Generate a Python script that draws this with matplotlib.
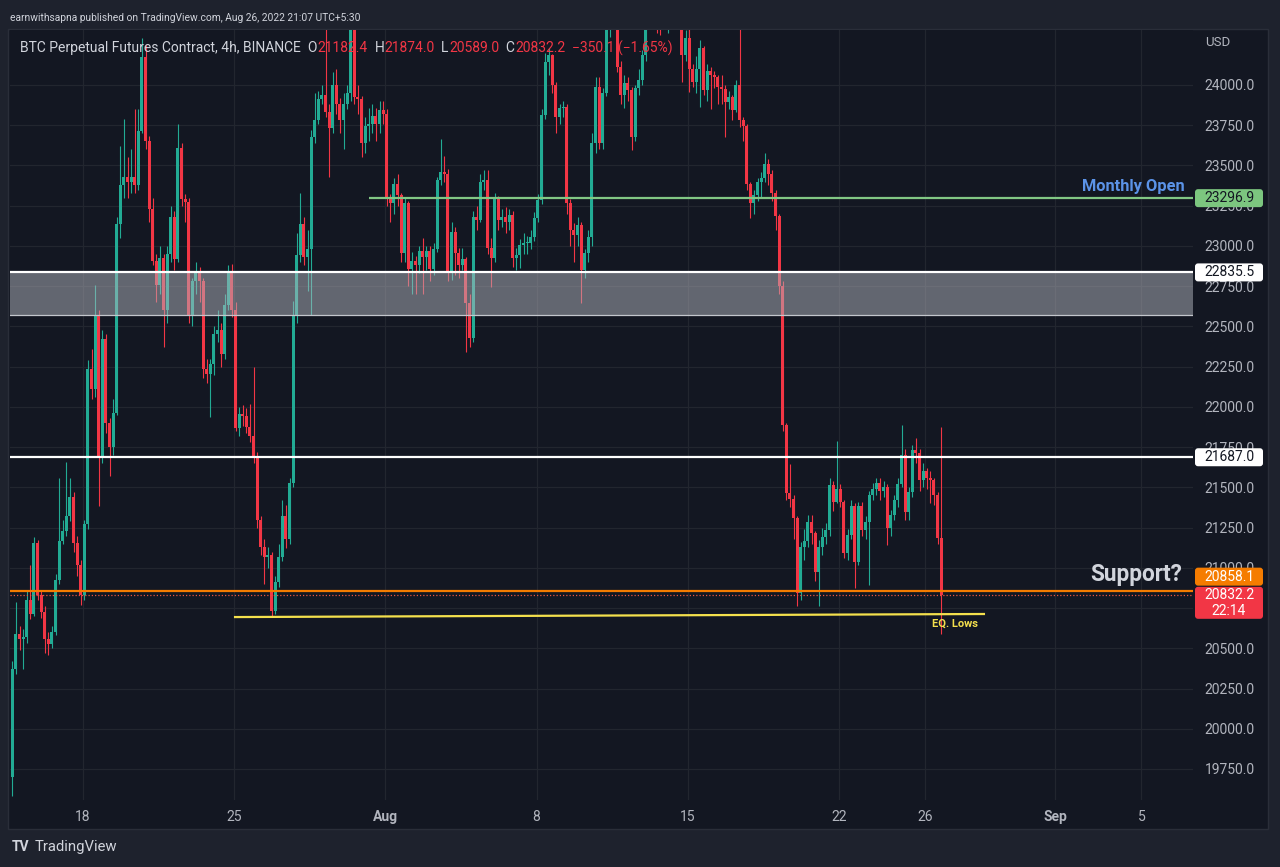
#!/usr/bin/env python3
"""
Recreate the TradingView snapshot of BTC perpetual futures, 4h, Aug 26 2022.
Candles, drawn levels and price tags are rebuilt with plain matplotlib.
"""

import matplotlib

matplotlib.use("Agg")
import matplotlib.pyplot as plt
import matplotlib.transforms as mtransforms
from matplotlib.patches import Rectangle, FancyBboxPatch

plt.rcParams["font.family"] = ["Roboto", "DejaVu Sans"]

# ═══════════════════════════════════════════════════════════════════════════
#  Data (read off the snapshot)
# ═══════════════════════════════════════════════════════════════════════════

FIRST_OPEN = 19700.0

CLOSES = [
    20374, 20588, 20558, 20570, 20802, 20710, 21153, 20832, 20725, 20558,   # 0
    20527, 20603, 20924, 21168, 21229, 21320, 21443, 21153, 21015, 20832,   # 10
    21275, 22236, 22114, 22572, 21687, 22419, 21900, 21748, 21961, 23136,   # 20
    23381, 23426, 23396, 23426, 23381, 23716, 24174, 23655, 23228, 22908,   # 30
    22755, 22923, 22602, 22950, 23182, 22920, 23610, 23289, 23274, 22572,   # 40
    22785, 22847, 22785, 22236, 22206, 22267, 22450, 22480, 22328, 22633,   # 50
    22847, 22602, 21870, 21953, 21945, 21876, 21820, 21696, 21296, 21129,   # 60
    21065, 21078, 20730, 20910, 21065, 21322, 21180, 21528, 22571, 22944,   # 70
    23138, 22931, 22980, 23678, 23781, 23910, 23936, 23833, 23730, 24000,   # 80
    23884, 23781, 23884, 23949, 24420, 23923, 23910, 23640, 23743, 23756,   # 90
    23807, 23756, 23846, 23820, 23305, 23266, 23382, 23318, 22957, 23266,   # 100
    22854, 22906, 22880, 22970, 22931, 22970, 22854, 22983, 23408, 23459,   # 110
    23447, 22829, 23086, 22957, 22880, 22918, 22648, 22429, 23182, 23161,   # 120
    23399, 23410, 22985, 22923, 23296, 23161, 23182, 23151, 23192, 22923,   # 130
    22943, 23006, 23016, 23016, 23057, 23171, 23285, 23813, 24145, 24186,   # 140
    24000, 23803, 23855, 23865, 23265, 23099, 23068, 23130, 22850, 22954,   # 150
    23057, 23637, 23990, 23638, 23948, 24420, 24480, 24400, 24114, 23938,   # 160
    24010, 23969, 23679, 23980, 24031, 24187, 24420, 24600, 24750, 24680,   # 170
    24550, 24700, 24900, 24850, 24700, 24500, 24187, 24290, 24100, 24021,   # 180
    24100, 24228, 23969, 24090, 24065, 24052, 23990, 23974, 23897, 23923,   # 190
    23846, 24000, 23781, 23743, 23382, 23266, 23318, 23395, 23421, 23511,   # 200
    23447, 23330, 23189, 22751, 21889, 21464, 21425, 21309, 20846, 21129,   # 210
    21168, 21283, 21219, 20975, 21129, 21193, 21232, 21515, 21412, 21490,   # 220
    21412, 21090, 21206, 21386, 21039, 21386, 21232, 21283, 21451, 21490,   # 230
    21528, 21480, 21500, 21248, 21330, 21420, 21520, 21700, 21347, 21471,   # 240
    21733, 21714, 21545, 21600, 21560, 21545, 21452, 21182.4, 20832.2,      # 250
]

HIGHS = [
    20420, 20787, 20640, 20620, 20860, 21020, 21190, 21170, 20860, 20760,
    20600, 20640, 20960, 21560, 21300, 21656, 21560, 21470, 21200, 21050,
    21300, 22290, 22360, 22755, 22600, 22480, 22450, 21930, 22050, 23180,
    23620, 23790, 23550, 23600, 23853, 23850, 24290, 24250, 23680, 23300,
    22950, 23000, 22950, 23000, 23250, 23220, 23760, 23640, 23320, 23300,
    22800, 22900, 22870, 22800, 22300, 22300, 22500, 22600, 22520, 22700,
    22880, 22890, 22650, 22000, 22010, 21990, 22020, 22250, 21720, 21320,
    21180, 21130, 21100, 20950, 21150, 21420, 21390, 21560, 22660, 23080,
    23330, 23180, 23100, 23720, 23950, 23960, 24000, 24348, 23880, 24080,
    24100, 23920, 23950, 24000, 24600, 24450, 24000, 23930, 23800, 23860,
    23880, 23860, 23900, 23900, 23850, 23320, 23420, 23450, 23330, 23300,
    23280, 22960, 22940, 23000, 23050, 23000, 23000, 23020, 23430, 23665,
    23560, 23480, 23150, 23120, 22990, 22990, 22930, 22700, 23220, 23250,
    23450, 23472, 23470, 23050, 23330, 23310, 23230, 23240, 23230, 23220,
    22990, 23040, 23080, 23060, 23100, 23210, 23320, 23850, 24200, 24228,
    24190, 24020, 23880, 23900, 23880, 23290, 23140, 23180, 23150, 22980,
    23100, 23700, 24050, 24050, 23980, 24500, 24560, 24520, 24420, 24150,
    24060, 24050, 23990, 24000, 24100, 24220, 24500, 24700, 24850, 24800,
    24720, 24780, 25050, 25200, 24950, 24780, 24550, 24340, 24360, 24130,
    24180, 24280, 24240, 24130, 24110, 24090, 24060, 24060, 24000, 23960,
    23940, 24030, 24360, 23800, 23760, 23400, 23350, 23420, 23460, 23580,
    23540, 23470, 23350, 23200, 22780, 21900, 21644, 21450, 21320, 21160,
    21240, 21330, 21330, 21230, 21170, 21250, 21280, 21560, 21540, 21786,
    21520, 21420, 21240, 21420, 21400, 21410, 21410, 21320, 21480, 21530,
    21560, 21560, 21540, 21520, 21360, 21450, 21560, 21890, 21740, 21500,
    21760, 21807, 21740, 21650, 21620, 21600, 21560, 21470, 21874,
]

LOWS = [
    19580, 20340, 20490, 20374, 20530, 20680, 20700, 20800, 20690, 20470,
    20460, 20500, 20580, 20900, 21150, 21200, 21290, 21100, 20950, 20770,
    20800, 21240, 22050, 22060, 21382, 21650, 21840, 21570, 21700, 21950,
    23050, 23300, 23300, 23330, 23330, 23350, 23700, 23600, 23150, 22880,
    22650, 22700, 22370, 22520, 22900, 22850, 22900, 23250, 23150, 22520,
    22500, 22700, 22650, 22180, 22150, 21940, 22200, 22400, 22250, 22300,
    22600, 22560, 21850, 21820, 21880, 21840, 21780, 21650, 21250, 21080,
    20897, 21000, 20700, 20710, 20880, 21040, 21120, 21150, 21500, 22520,
    22900, 22880, 22720, 22570, 23640, 23760, 23880, 23800, 23430, 23700,
    23820, 23700, 23600, 23850, 23900, 23880, 23820, 23550, 23580, 23650,
    23700, 23650, 23700, 23760, 23250, 23150, 23200, 23250, 22900, 22900,
    22750, 22700, 22700, 22830, 22700, 22850, 22780, 22820, 22960, 23380,
    23400, 22780, 22790, 22820, 22800, 22850, 22339, 22374, 22400, 23100,
    23150, 23350, 22950, 22747, 22900, 23100, 23120, 23080, 23100, 22870,
    22850, 22860, 22950, 22950, 22980, 23030, 23150, 23260, 23790, 24060,
    23950, 23700, 23760, 23800, 23200, 23000, 22900, 23000, 22643, 22800,
    22900, 23000, 23580, 23600, 23600, 23930, 24300, 24350, 24080, 23880,
    23860, 23900, 23596, 23650, 23940, 24000, 24150, 24400, 24550, 24320,
    24310, 24450, 24320, 24600, 24550, 24420, 24021, 24150, 23957, 23990,
    23950, 23865, 23940, 23900, 23850, 23980, 23880, 23880, 23678, 23850,
    23780, 23830, 23740, 23650, 23350, 23175, 23200, 23280, 23300, 23400,
    23380, 23280, 23100, 22700, 21850, 21420, 21380, 21180, 20760, 20800,
    21050, 21130, 21150, 20920, 20760, 21080, 21150, 21200, 21350, 21400,
    21380, 21060, 21050, 21180, 20875, 21020, 21200, 21180, 20895, 21420,
    21450, 21420, 21440, 21140, 21200, 21300, 21380, 21500, 21300, 21300,
    21440, 21650, 21480, 21500, 21490, 21400, 21390, 21150, 20589,
]

# time axis: days after Jul 18 00:00 (chart time zone UTC+5:30)
LAST_CANDLE_DAY = 39 + 17.5 / 24
CANDLE_STEP = 4 / 24
TIME_TICKS = [0, 7, 14, 21, 28, 35, 39, 45, 49]
TIME_LABELS = ["18", "25", "Aug", "8", "15", "22", "26", "Sep", "5"]
MONTH_LABELS = ["Aug", "Sep"]

PRICE_TICKS = [19750, 20000, 20250, 20500, 20750, 21000, 21250, 21500, 21750,
               22000, 22250, 22500, 22750, 23000, 23250, 23500, 23750, 24000]

# drawn levels
MONTHLY_OPEN = 23296.9
MONTHLY_OPEN_FROM = 13.24
ZONE_TOP = 22835.5
ZONE_BOTTOM = 22570.0
RESISTANCE = 21687.0
SUPPORT = 20858.1
EQ_LOWS_X = [7.04, 41.71]
EQ_LOWS_Y = [20694, 20713]

CHANGE_LABEL = "−350.1 (−1.65%)"
COUNTDOWN = "22:14"
PUBLISHED = "earnwithsapna published on TradingView.com, Aug 26, 2022 21:07 UTC+5:30"
SYMBOL = "BTC Perpetual Futures Contract, 4h, BINANCE"

# ═══════════════════════════════════════════════════════════════════════════
#  Style
# ═══════════════════════════════════════════════════════════════════════════

W, H = 1280, 867
BG_OUTER = "#1e222d"
BG_PANE = "#131722"
GRID = "#22262f"
AXIS_TEXT = "#b2b5be"
LIGHT_TEXT = "#d1d4dc"
UP = "#22ab94"
DOWN = "#f23645"
ORANGE = "#f57c00"
GREEN_LINE = "#81c784"
YELLOW = "#f4e04d"
BLUE_TEXT = "#5b93e8"

PLOT_LEFT, PLOT_RIGHT, PLOT_TOP, PLOT_BOTTOM = 10, 1193, 30, 800
X_RANGE = (-3.38, 51.39)
Y_RANGE = (19557.3, 24341.7)

IDENT = mtransforms.IdentityTransform()


def fig_text(x_px, y_px, s, **kw):
    """Text placed in image pixels (origin top-left)."""
    return fig.text(x_px, H - y_px, s, transform=IDENT, **kw)


def px_y(price):
    """Image-space y (from top) of a price on the main axes."""
    return H - ax.transData.transform((0, price))[1]


def tag(y_center, height, face):
    box = FancyBboxPatch((1195, H - y_center - height / 2), 68, height,
                         boxstyle="round,pad=0,rounding_size=3",
                         fc=face, ec="none", transform=IDENT, zorder=10)
    fig.add_artist(box)


# ═══════════════════════════════════════════════════════════════════════════
#  Figure
# ═══════════════════════════════════════════════════════════════════════════

fig = plt.figure(figsize=(W / 100, H / 100), dpi=100, facecolor=BG_OUTER)
fig.add_artist(Rectangle((8, H - 829), 1260, 800, transform=IDENT,
                         fc=BG_PANE, ec="#2a2e39", lw=1, zorder=0))

ax = fig.add_axes([PLOT_LEFT / W, (H - PLOT_BOTTOM) / H,
                   (PLOT_RIGHT - PLOT_LEFT) / W, (PLOT_BOTTOM - PLOT_TOP) / H])
ax.set_facecolor(BG_PANE)
ax.set_xlim(*X_RANGE)
ax.set_ylim(*Y_RANGE)
for sp in ax.spines.values():
    sp.set_visible(False)

# grid + axes labels
ax.set_xticks(TIME_TICKS)
ax.set_xticklabels(TIME_LABELS)
ax.set_yticks(PRICE_TICKS)
ax.set_yticklabels([f"{v:.1f}" for v in PRICE_TICKS])
ax.yaxis.tick_right()
ax.tick_params(axis="both", length=0, colors=AXIS_TEXT, labelsize=10)
ax.tick_params(axis="x", pad=7)
ax.tick_params(axis="y", pad=8.5)
for lbl in ax.get_xticklabels():
    if lbl.get_text() in MONTH_LABELS:
        lbl.set_fontweight("bold")
ax.grid(True, color=GRID, lw=0.9, zorder=0)
ax.set_axisbelow(True)

# candles
n = len(CLOSES)
opens = [FIRST_OPEN] + CLOSES[:-1]
days = [LAST_CANDLE_DAY - (n - 1 - i) * CANDLE_STEP for i in range(n)]
for d, o, hi, lo, c in zip(days, opens, HIGHS, LOWS, CLOSES):
    col = UP if c >= o else DOWN
    ax.vlines(d, min(lo, o, c), max(hi, o, c), color=col, lw=0.8, zorder=2)
    ax.bar(d, max(abs(c - o), 6), bottom=min(o, c), width=0.135,
           color=col, lw=0, zorder=3)

# drawn levels
ax.axhspan(ZONE_BOTTOM, ZONE_TOP, fc="#b2b5be", alpha=0.5, lw=0, zorder=4)
ax.axhline(ZONE_TOP, color="white", lw=1.6, zorder=5)
ax.axhline(ZONE_BOTTOM, color="#c3c6cc", lw=0.9, zorder=5)
ax.axhline(RESISTANCE, color="white", lw=1.6, zorder=5)
ax.hlines(MONTHLY_OPEN, MONTHLY_OPEN_FROM, X_RANGE[1], color=GREEN_LINE,
          lw=1.6, zorder=5)
ax.axhline(SUPPORT, color=ORANGE, lw=1.6, zorder=5)
ax.axhline(CLOSES[-1], color="#e8553f", lw=0.9, ls=(0, (1, 1.6)), zorder=5)
ax.plot(EQ_LOWS_X, EQ_LOWS_Y, color=YELLOW, lw=1.6, zorder=5)
ax.annotate("EQ. Lows", xy=(EQ_LOWS_X[1], EQ_LOWS_Y[1]), xytext=(-29, -10),
            textcoords="offset pixels", ha="center", va="center",
            color=YELLOW, fontsize=8, fontweight="bold", zorder=6)

# level captions
fig_text(1185, px_y(MONTHLY_OPEN) - 12, "Monthly Open", color=BLUE_TEXT,
         fontsize=11.8, fontweight="bold", ha="right", va="center", zorder=6)
fig_text(1182, px_y(SUPPORT) - 16, "Support?", color=LIGHT_TEXT,
         fontsize=16.3, fontweight="bold", ha="right", va="center", zorder=6)

# price axis tags
for price, face, txt_col in [(MONTHLY_OPEN, "#7cc67f", "#131722"),
                             (ZONE_TOP, "white", "#131722"),
                             (RESISTANCE, "white", "#131722")]:
    yc = px_y(price)
    tag(yc, 18, face)
    fig_text(1229, yc, f"{price:.1f}", color=txt_col, fontsize=10,
             ha="center", va="center", zorder=11)

yc = px_y(SUPPORT) - 14
tag(yc, 18, ORANGE)
fig_text(1229, yc, f"{SUPPORT:.1f}", color="white", fontsize=10,
         ha="center", va="center", zorder=11)

yc = px_y(CLOSES[-1])
tag(yc + 8, 32, DOWN)
fig_text(1229, yc, f"{CLOSES[-1]:.1f}", color="white", fontsize=10,
         ha="center", va="center", zorder=11)
fig_text(1229, yc + 16, COUNTDOWN, color="white", fontsize=10,
         ha="center", va="center", zorder=11)

fig_text(1205, 43, "USD", color=AXIS_TEXT, fontsize=9.5, va="center")

# header lines
fig_text(10, 18, PUBLISHED, color=LIGHT_TEXT, fontsize=7.35, va="center")

renderer = fig.canvas.get_renderer()
runs = [
    (SYMBOL, LIGHT_TEXT),
    ("  O", LIGHT_TEXT), (f"{opens[-1]:.1f}", DOWN),
    ("  H", LIGHT_TEXT), (f"{HIGHS[-1]:.1f}", DOWN),
    ("  L", LIGHT_TEXT), (f"{LOWS[-1]:.1f}", DOWN),
    ("  C", LIGHT_TEXT), (f"{CLOSES[-1]:.1f}", DOWN),
    ("  " + CHANGE_LABEL, DOWN),
]
x_run = 20
for s, col in runs:
    t = fig_text(x_run, 48, s, color=col, fontsize=10, va="center", zorder=12)
    x_run += t.get_window_extent(renderer).width

# footer
fig_text(12, 847, "TV", color=LIGHT_TEXT, fontsize=10, fontweight="bold",
         va="center")
fig_text(35, 847, "TradingView", color=LIGHT_TEXT, fontsize=10.7, va="center")

fig.savefig("out.png", dpi=100, facecolor=BG_OUTER)
plt.close(fig)
